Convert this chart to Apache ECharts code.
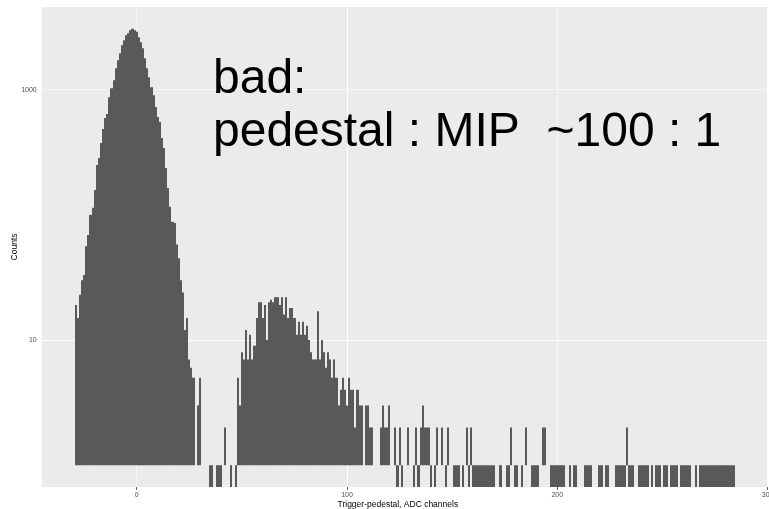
<!DOCTYPE html>
<html>
<head>
<meta charset="utf-8">
<title>Trigger-pedestal histogram</title>
<script src="https://cdn.jsdelivr.net/npm/echarts@6/dist/echarts.min.js"></script>
<style>
  html, body { margin: 0; padding: 0; background: #ffffff; }
  #chart { width: 769px; height: 509px; }
</style>
</head>
<body>
<div id="chart"></div>
<script>
// Histogram of trigger minus pedestal, one ADC channel per bin.
// Each block lists counts for consecutive bins, starting at the given bin centre.
const binWidth = 1;

const pedestalFirstBin = -29;
const pedestalCounts = [
  19, 15, 23, 30, 33, 56, 69, 100, 114, 158,
  250, 284, 375, 484, 593, 638, 871, 1028, 1190, 1483,
  1718, 1954, 2264, 2479, 2718, 2818, 2978, 3062, 2978, 2897,
  2620, 2390, 2143, 1782, 1483, 1259, 1047, 904, 726, 604,
  551, 411, 342, 237, 164, 116, 88, 86, 58, 45,
  30, 24, 12, 15, 7, 6, 5, 0, 3, 5
];

const gapFirstBin = 31;
const gapCounts = [0, 0, 0, 0, 1, 1, 0, 1, 1, 1, 0, 2, 0, 0, 1, 0, 1];

const mipFirstBin = 48;
const mipCounts = [
  5, 3, 8, 7, 12, 7, 11, 7, 9, 15,
  20, 20, 15, 19, 10, 20, 21, 20, 22, 22,
  19, 22, 16, 22, 15, 18, 18, 15, 11, 14,
  11, 14, 11, 13, 10, 8, 7, 7, 17, 7,
  10, 8, 6, 8, 7, 5, 7, 5, 3, 4,
  5, 4, 3, 5, 4, 4, 2, 4, 3, 3,
  0, 3, 3, 2, 2
];

const tailFirstBin = 113;
const tailCounts = [
  0, 0, 0, 2, 3, 2, 2, 3, 0, 0,
  2, 1, 2, 1, 0, 0, 2, 0, 0, 1,
  2, 1, 2, 3, 2, 2, 2, 1, 0, 1,
  2, 0, 2, 0, 1, 2, 0, 0, 1, 1,
  1, 0, 1, 0, 2, 1, 2, 1, 1, 1,
  1, 1, 1, 1, 1, 1, 1, 1, 0, 0,
  1, 0, 0, 1, 1, 2, 0, 1, 1, 0,
  1, 0, 2, 0, 0, 1, 1, 1, 1, 0,
  2, 2, 0, 0, 1, 1, 1, 1, 1, 1,
  1, 0, 0, 1, 0, 1, 1, 0, 0, 0,
  1, 1, 1, 1, 0, 0, 0, 1, 1, 0,
  1, 1, 0, 0, 0, 1, 1, 1, 1, 1,
  2, 1, 1, 1, 0, 0, 1, 1, 1, 1,
  1, 0, 1, 0, 1, 1, 1, 0, 1, 1,
  0, 1, 1, 1, 1, 0, 1, 1, 1, 1,
  1, 0, 0, 1, 0, 1, 1, 1, 1, 1,
  1, 1, 1, 1, 1, 1, 1, 1, 1, 1,
  1, 1
];

const xTickLabels = [0, 100, 200, 300];
const yTickLabels = [10, 1000];

const annotation = 'bad:\npedestal : MIP  ~100 : 1';
const xTitle = 'Trigger-pedestal, ADC channels';
const yTitle = 'Counts';

// Collect non-empty bins as [centre, count]
const bins = [];
[
  [pedestalFirstBin, pedestalCounts],
  [gapFirstBin, gapCounts],
  [mipFirstBin, mipCounts],
  [tailFirstBin, tailCounts]
].forEach(([first, counts]) => {
  counts.forEach((c, i) => {
    if (c > 0) bins.push([first + i * binWidth, c]);
  });
});

const FONT = '"Liberation Sans", Arial, Helvetica, sans-serif';
const BAR = '#595959';
const MAJOR = '#ffffff';
const MINOR = 'rgba(255,255,255,0.55)';

// Log-scale bars rise from the count-1 line; single-count bins hang below it.
// Vertical edges are snapped to whole pixels so neighbouring bins join cleanly.
function renderBin(params, api) {
  const x = api.value(0);
  const c = api.value(1);
  const pL = api.coord([x - binWidth / 2, 1]);
  const pR = api.coord([x + binWidth / 2, 1]);
  const cs = params.coordSys;
  let yTop, yBottom;
  if (c > 1) {
    yTop = api.coord([x, c])[1];
    yBottom = pL[1];
  } else {
    yTop = pL[1];
    yBottom = cs.y + cs.height;
  }
  const x0 = Math.round(pL[0]);
  const x1 = Math.round(pR[0]);
  return {
    type: 'rect',
    shape: { x: x0, y: yTop, width: Math.max(1, x1 - x0), height: yBottom - yTop },
    style: { fill: BAR, stroke: null, lineWidth: 0 }
  };
}

const chart = echarts.init(document.getElementById('chart'), null, { renderer: 'canvas' });

chart.setOption({
  animation: false,
  backgroundColor: '#ffffff',
  grid: {
    left: 41.7, right: 1, top: 7, bottom: 22,
    show: true, backgroundColor: '#EBEBEB', borderWidth: 0,
    containLabel: false,
    outerBoundsMode: 'none'
  },
  xAxis: {
    type: 'value',
    min: -45.2,
    max: 300.2,
    splitNumber: 7,
    minInterval: 50,
    maxInterval: 50,
    axisLine: { show: false },
    axisTick: {
      show: true, length: 3, customValues: xTickLabels,
      lineStyle: { color: '#333333', width: 0.8 }
    },
    axisLabel: {
      show: true, margin: 5, fontSize: 7, color: '#4D4D4D', fontFamily: FONT,
      formatter: v => (xTickLabels.indexOf(Math.round(v)) >= 0 && Math.abs(v - Math.round(v)) < 1e-6) ? String(Math.round(v)) : ''
    },
    splitLine: { show: true, lineStyle: { color: [MINOR, MAJOR], width: 1 } },
    name: xTitle,
    nameLocation: 'middle',
    nameGap: 13,
    nameMoveOverlap: false,
    nameTextStyle: { fontSize: 8.5, color: '#000000', fontFamily: FONT, padding: [0, 14, 0, 0] }
  },
  yAxis: {
    type: 'log',
    logBase: 10,
    min: 0.6695,
    max: 4575,
    axisLine: { show: false },
    axisTick: {
      show: true, length: 3, customValues: yTickLabels,
      lineStyle: { color: '#333333', width: 0.8 }
    },
    axisLabel: {
      show: true, margin: 5, fontSize: 7, color: '#4D4D4D', fontFamily: FONT,
      formatter: v => (yTickLabels.indexOf(Math.round(v)) >= 0 && Math.abs(v - Math.round(v)) < 1e-6) ? String(Math.round(v)) : ''
    },
    splitLine: { show: true, lineStyle: { color: [MAJOR, MINOR], width: 1 } },
    name: yTitle,
    nameLocation: 'middle',
    nameRotate: 90,
    nameGap: 22.5,
    nameMoveOverlap: false,
    nameTextStyle: { fontSize: 8.5, color: '#000000', fontFamily: FONT }
  },
  series: [{
    type: 'custom',
    name: yTitle,
    renderItem: renderBin,
    clip: true,
    data: bins,
    encode: { x: 0, y: 1 }
  }],
  graphic: [{
    type: 'text',
    x: 213,
    y: 53,
    z: 100,
    style: {
      text: annotation,
      fontSize: 48,
      fontFamily: FONT,
      lineHeight: 53,
      fill: '#000000',
      verticalAlign: 'top',
      align: 'left'
    }
  }]
});
</script>
</body>
</html>
